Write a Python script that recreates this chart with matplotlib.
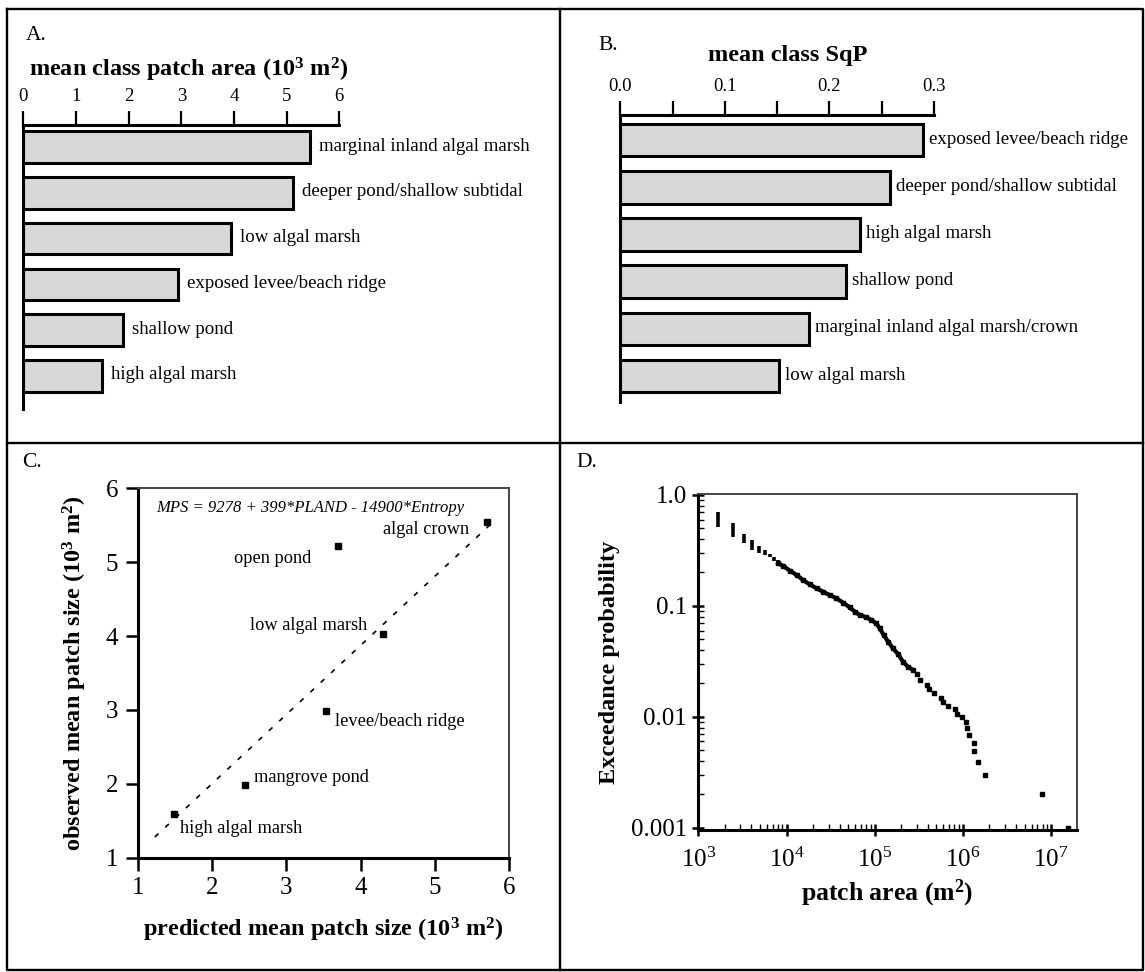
import matplotlib
matplotlib.use("Agg")
import matplotlib.pyplot as plt
from matplotlib.lines import Line2D
import numpy as np

plt.rcParams['font.family'] = ['Liberation Serif', 'DejaVu Serif']
plt.rcParams['mathtext.fontset'] = 'custom'
plt.rcParams['mathtext.rm'] = 'Liberation Serif'
plt.rcParams['mathtext.bf'] = 'Liberation Serif:bold'
plt.rcParams['mathtext.it'] = 'Liberation Serif:italic'

# ---------------- data ----------------
a_labels = ["marginal inland algal marsh", "deeper pond/shallow subtidal", "low algal marsh",
            "exposed levee/beach ridge", "shallow pond", "high algal marsh"]
a_values = [5.45, 5.12, 3.95, 2.93, 1.90, 1.50]

b_labels = ["exposed levee/beach ridge", "deeper pond/shallow subtidal", "high algal marsh",
            "shallow pond", "marginal inland algal marsh/crown", "low algal marsh"]
b_values = [0.2895, 0.258, 0.229, 0.2155, 0.180, 0.152]

c_labels = ["algal crown", "open pond", "low algal marsh", "levee/beach ridge",
            "mangrove pond", "high algal marsh"]
c_pred = [5.70, 3.70, 4.30, 3.54, 2.44, 1.49]
c_obs = [5.55, 5.22, 4.03, 2.98, 1.98, 1.59]
c_fit_x = [1.23, 5.81]
c_fit_y = [1.28, 5.57]
c_equation = "MPS = 9278 + 399*PLAND - 14900*Entropy"

# panel D: exceedance probability vs patch area
d_bar_x = [1660, 2450, 3290, 4080, 4860, 5690, 6480, 7250, 8050]
d_bar_ylo = [0.518, 0.421, 0.372, 0.319, 0.302, 0.288, 0.274, 0.256, 0.242]
d_bar_yhi = [0.707, 0.556, 0.442, 0.393, 0.347, 0.319, 0.294, 0.274, 0.259]
d_curve_x = [8050, 9160, 10900, 13000, 15400, 18400, 21900, 26000, 31000, 36800, 43800,
             52100, 59400, 67700, 80500, 91700, 104000, 114000, 126000, 142000, 161000,
             184000, 209000, 238000, 272000]
d_curve_y = [0.242, 0.229, 0.208, 0.190, 0.171, 0.156, 0.144, 0.134, 0.125, 0.117, 0.107,
             0.097, 0.0887, 0.0828, 0.0789, 0.0746, 0.0696, 0.0628, 0.0547, 0.0476, 0.0414,
             0.0368, 0.0314, 0.0283, 0.0264]
d_tail_x = [301000, 323000, 391000, 412000, 465000, 569000, 594000, 677000, 805000, 855000,
            982000, 1.07e6, 1.11e6, 1.17e6, 1.32e6, 1.34e6, 1.48e6, 1.76e6, 7.83e6, 1.56e7]
d_tail_y = [0.0242, 0.0215, 0.0194, 0.0177, 0.0163, 0.0149, 0.0137, 0.0126, 0.0117, 0.0107,
            0.0099, 0.0090, 0.0079, 0.0069, 0.0058, 0.0049, 0.0039, 0.0030, 0.0020, 0.0010]

# ---------------- layout helpers ----------------
W, H = 1145, 972
fig = plt.figure(figsize=(W / 100, H / 100), dpi=100)


def rect(x0, y0, x1, y1):
    return [x0 / W, 1 - y1 / H, (x1 - x0) / W, (y1 - y0) / H]


def ftext(x, y, s, **kw):
    fig.text(x / W, 1 - y / H, s, **kw)


def fline(xs, ys, lw=2.0, color='black'):
    fig.add_artist(Line2D([x / W for x in xs], [1 - y / H for y in ys], lw=lw, color=color))


# panel frame
XL, XR, YT, YB = 7, 1143, 9, 970
XM, YM = 560, 443
fline([XL, XR, XR, XL, XL], [YT, YT, YB, YB, YT], lw=1.7)
fline([XM, XM], [YT, YB], lw=1.7)
fline([XL, XR], [YM, YM], lw=1.7)

BAR_FILL = '#d8d8d8'
LBL = 13.6


def style_bar_axis(ax):
    for s in ['right', 'bottom']:
        ax.spines[s].set_visible(False)
    ax.spines['top'].set_linewidth(2.2)
    ax.spines['left'].set_linewidth(2.2)
    ax.xaxis.set_ticks_position('top')
    ax.xaxis.set_label_position('top')
    ax.tick_params(axis='x', which='both', direction='out', length=10, width=1.6,
                   labelsize=13.5, pad=4)
    ax.tick_params(axis='y', left=False, labelleft=False)
    ax.set_facecolor('none')


# ---------------- Panel A ----------------
axA = fig.add_axes(rect(23.3, 124.7, 339.2, 408.9))
posA = np.arange(len(a_values))
axA.barh(posA, a_values, height=0.69, color=BAR_FILL, edgecolor='black', linewidth=2.2)
axA.set_xlim(0, 6)
axA.set_ylim(5.72, -0.49)
axA.set_xticks(range(0, 7))
style_bar_axis(axA)
for i, (lab, v) in enumerate(zip(a_labels, a_values)):
    axA.annotate(lab, xy=(v, i), xytext=(9, 1), textcoords='offset pixels',
                 va='center', ha='left', fontsize=LBL, annotation_clip=False)
ftext(26, 36, "A.", fontsize=15.5, va='center', ha='left')
ftext(29, 70, r"mean class patch area (10$^{\mathbf{3}}$ m$^{\mathbf{2}}$)",
      fontsize=17.5, fontweight='bold', va='center', ha='left')

# ---------------- Panel B ----------------
axB = fig.add_axes(rect(620.2, 114.8, 934.1, 401.5))
posB = np.arange(len(b_values))
axB.barh(posB, b_values, height=0.69, color=BAR_FILL, edgecolor='black', linewidth=2.2)
axB.set_xlim(0, 0.3)
axB.set_ylim(5.54, -0.536)
axB.set_xticks([0.0, 0.1, 0.2, 0.3])
axB.set_xticklabels(["0.0", "0.1", "0.2", "0.3"])
axB.set_xticks([0.05, 0.15, 0.25], minor=True)
style_bar_axis(axB)
for i, (lab, v) in enumerate(zip(b_labels, b_values)):
    axB.annotate(lab, xy=(v, i), xytext=(6, 1), textcoords='offset pixels',
                 va='center', ha='left', fontsize=LBL, annotation_clip=False)
ftext(598, 45, "B.", fontsize=15.5, va='center', ha='left')
ftext(788, 56, "mean class SqP", fontsize=17.5, fontweight='bold', va='center', ha='center')

# ---------------- Panel C ----------------
axC = fig.add_axes(rect(137.7, 488.3, 509.3, 857.7))
axC.plot(c_fit_x, c_fit_y, color='black', lw=1.2, dashes=(3.0, 5.5))
axC.plot(c_pred, c_obs, ls='none', marker='s', ms=4.3, color='black')
axC.set_xlim(1, 6)
axC.set_ylim(1, 6)
axC.set_xticks(range(1, 7))
axC.set_yticks(range(1, 7))
for s in ['left', 'bottom']:
    axC.spines[s].set_linewidth(2.2)
for s in ['top', 'right']:
    axC.spines[s].set_linewidth(1.4)
    axC.spines[s].set_color('#444444')
axC.tick_params(direction='out', length=9, width=1.8, labelsize=18, pad=5)
c_text_pos = [(5.46, 5.44, 'right'), (2.29, 5.05, 'left'), (2.51, 4.14, 'left'),
              (3.65, 2.85, 'left'), (2.56, 2.09, 'left'), (1.57, 1.40, 'left')]
for lab, (tx, ty, ha) in zip(c_labels, c_text_pos):
    axC.text(tx, ty, lab, fontsize=13.2, ha=ha, va='center')
axC.text(3.32, 5.74, c_equation, fontsize=12, style='italic', ha='center', va='center')
axC.set_xlabel(r"predicted mean patch size (10$^{\mathbf{3}}$ m$^{\mathbf{2}}$)",
               fontsize=17.5, fontweight='bold', labelpad=12)
axC.set_ylabel(r"observed mean patch size (10$^{\mathbf{3}}$ m$^{\mathbf{2}}$)",
               fontsize=17.5, fontweight='bold', labelpad=12)
ftext(22, 462, "C.", fontsize=15.5, va='center', ha='left')

# ---------------- Panel D ----------------
axD = fig.add_axes(rect(698.3, 494, 1076.7, 830))
axD.set_xscale('log')
axD.set_yscale('log')
axD.vlines(d_bar_x, d_bar_ylo, d_bar_yhi, color='black', lw=2.6)
axD.plot(d_curve_x, d_curve_y, color='black', lw=3.0, marker='s', ms=2.4)
axD.plot(d_tail_x, d_tail_y, ls='none', marker='s', ms=2.6, color='black')
axD.set_xlim(1000, 1.95e7)
axD.set_ylim(0.000955, 1.02)
axD.set_xticks([1e3, 1e4, 1e5, 1e6, 1e7])
axD.set_xticklabels([r"10$^{3}$", r"10$^{4}$", r"10$^{5}$", r"10$^{6}$", r"10$^{7}$"])
axD.set_yticks([1.0, 0.1, 0.01, 0.001])
axD.set_yticklabels(["1.0", "0.1", "0.01", "0.001"])
for s in ['left', 'bottom']:
    axD.spines[s].set_linewidth(2.2)
for s in ['top', 'right']:
    axD.spines[s].set_linewidth(1.4)
    axD.spines[s].set_color('#444444')
axD.tick_params(which='major', direction='inout', length=8, width=1.8, labelsize=18, pad=4)
axD.tick_params(axis='x', which='major', pad=9)
axD.tick_params(which='minor', direction='in', length=4, width=1.0)
axD.set_xlabel(r"patch area (m$^{\mathbf{2}}$)", fontsize=18.5, fontweight='bold', labelpad=4)
axD.set_ylabel("Exceedance probability", fontsize=17.5, fontweight='bold', labelpad=8)
ftext(576, 462, "D.", fontsize=15.5, va='center', ha='left')

fig.savefig("out.png", dpi=100)
